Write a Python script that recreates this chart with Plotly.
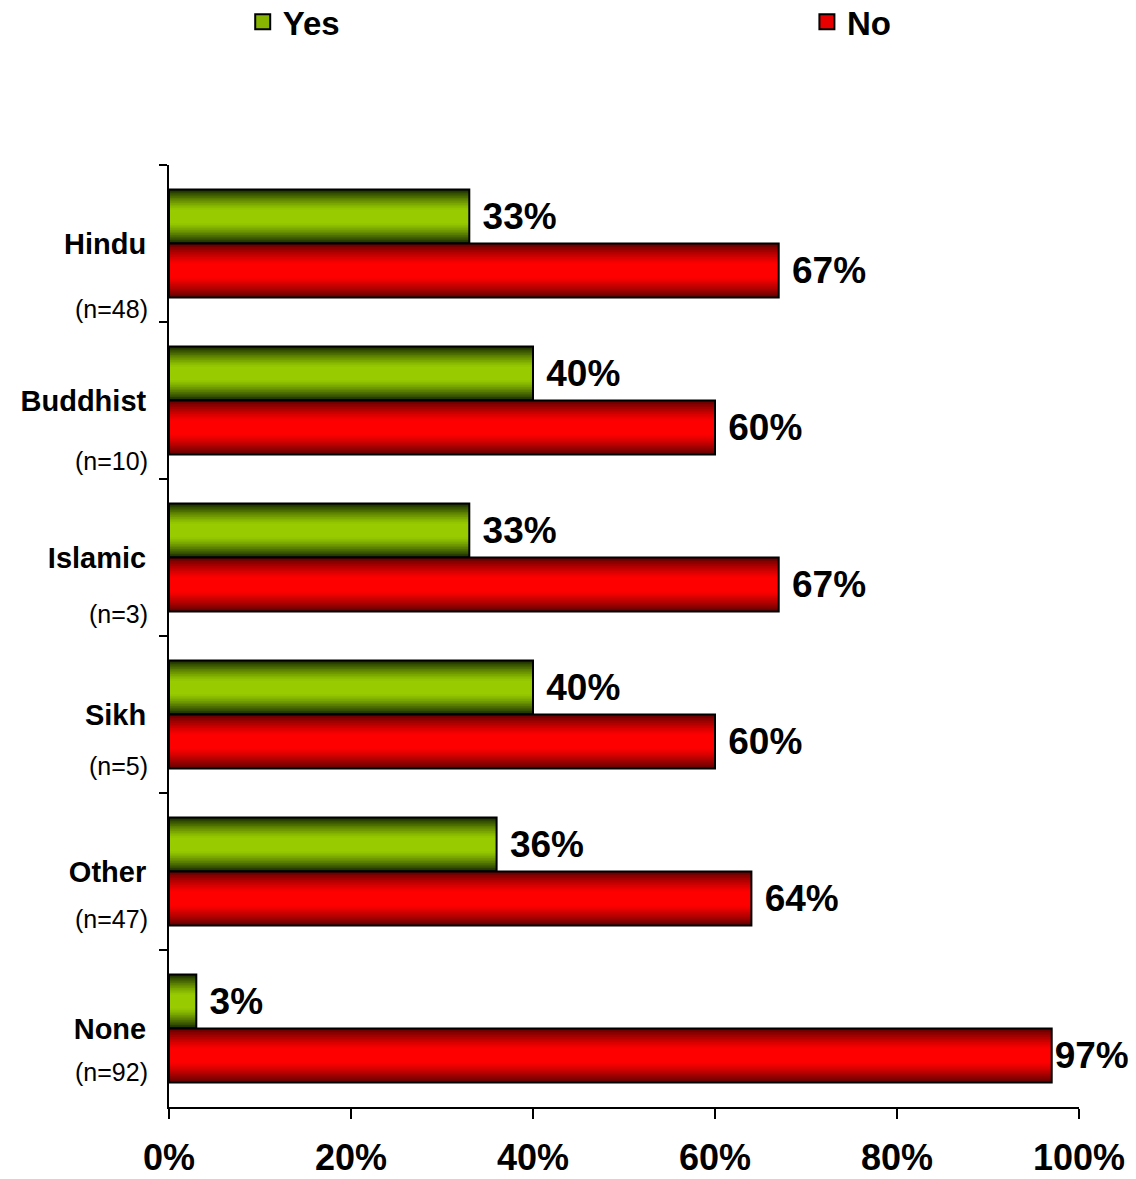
import plotly.graph_objects as go

categories = ["Hindu", "Buddhist", "Islamic", "Sikh", "Other", "None"]
sample_sizes = ["(n=48)", "(n=10)", "(n=3)", "(n=5)", "(n=47)", "(n=92)"]
yes_values = [33, 40, 33, 40, 36, 3]
no_values = [67, 60, 67, 60, 64, 97]
x_ticks = [0, 20, 40, 60, 80, 100]

BAR_W = 0.344
N_LAYERS = 16
FONT = "Liberation Sans, Arial, sans-serif"


def mix(c1, c2, t):
    return "rgb(%d,%d,%d)" % tuple(round(a + (b - a) * t) for a, b in zip(c1, c2))


series = [
    dict(name="Yes", values=yes_values, offset=-BAR_W, bright=(153, 204, 0), dark=(25, 45, 0), legend="legend"),
    dict(name="No", values=no_values, offset=0.0, bright=(255, 0, 0), dark=(100, 0, 0), legend="legend2"),
]

fig = go.Figure()

for s in series:
    # gradient layers (vertical shading)
    for j in range(N_LAYERS):
        f = 1 - j / N_LAYERS
        w = BAR_W * f
        t = max(0.0, (f - 0.25) / 0.75)
        col = mix(s["bright"], s["dark"], t ** 1.3)
        fig.add_trace(go.Bar(
            y=categories, x=s["values"], orientation="h",
            width=w, offset=s["offset"] + (BAR_W - w) / 2,
            marker=dict(color=col, line=dict(width=0)),
            showlegend=False, hoverinfo="skip",
        ))
    # outline + labels (a small gap before the label, except where it would overflow)
    fig.add_trace(go.Bar(
        y=categories, x=s["values"], orientation="h",
        width=BAR_W, offset=s["offset"],
        marker=dict(color="rgba(0,0,0,0)", line=dict(color="black", width=2)),
        text=[(f" {v}%" if v < 90 else f"{v}%") for v in s["values"]], textposition="outside",
        textfont=dict(family=FONT, size=37, color="black", weight="bold"),
        constraintext="none", cliponaxis=False,
        showlegend=False, hoverinfo="skip",
    ))
    # legend key
    fig.add_trace(go.Scatter(
        x=[None], y=[None], mode="markers", name=s["name"], legend=s["legend"],
        marker=dict(symbol="square", size=15, color=mix(s["bright"], s["dark"], 0.15),
                    line=dict(color="black", width=2)),
        showlegend=True, hoverinfo="skip",
    ))

for i, (cat, n) in enumerate(zip(categories, sample_sizes)):
    fig.add_annotation(
        xref="paper", yref="y", x=0, y=cat, xanchor="right", yanchor="middle",
        xshift=-19, yshift=-(65 - 4.4 * i), text=n, showarrow=False,
        font=dict(family=FONT, size=25, color="black"),
    )

legend_style = dict(
    orientation="h", xanchor="left", y=1.152, yanchor="middle",
    font=dict(family=FONT, size=33, color="black", weight="bold"),
    itemclick=False, itemdoubleclick=False, bgcolor="rgba(0,0,0,0)",
)

fig.update_layout(
    width=1136, height=1179,
    margin=dict(l=169, r=57, t=165, b=72, autoexpand=False),
    paper_bgcolor="white", plot_bgcolor="white",
    barmode="overlay",
    font=dict(family=FONT, color="black"),
    legend=dict(x=0.081, **legend_style),
    legend2=dict(x=0.701, **legend_style),
    xaxis=dict(
        range=[0, 100], tickvals=x_ticks, ticktext=[f"{v}%" for v in x_ticks],
        ticks="outside", ticklen=10, tickwidth=2, tickcolor="black",
        showline=True, linewidth=2, linecolor="black", showgrid=False, zeroline=False,
        tickfont=dict(family=FONT, size=36, color="black", weight="bold"),
        ticklabelstandoff=8,
    ),
    yaxis=dict(
        range=[5.5, -0.5], type="category", categoryorder="array", categoryarray=categories,
        tickson="boundaries",
        ticks="outside", ticklen=8, tickwidth=2, tickcolor="black",
        showline=True, linewidth=2, linecolor="black", showgrid=False, zeroline=False,
        tickfont=dict(family=FONT, size=29, color="black", weight="bold"),
        ticklabelstandoff=15,
    ),
)

fig.write_html("out.html", config={"displayModeBar": False},
               post_script="document.body.style.margin='0';")
